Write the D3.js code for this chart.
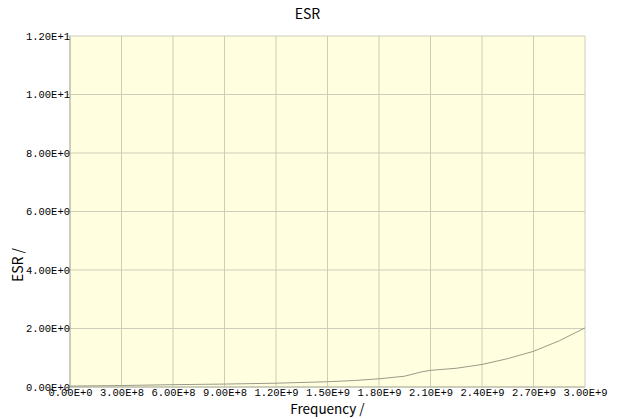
<!DOCTYPE html>
<html>
<head>
<meta charset="utf-8">
<script src="https://cdn.jsdelivr.net/npm/d3@7"></script>
<style>
  body { margin: 0; background: #fff; }
  svg text { fill: #000; }
</style>
</head>
<body>
<div id="chart"></div>
<script>
// frequency (Hz) and ESR values
const freq = [0, 3e8, 6e8, 9e8, 1.2e9, 1.5e9, 1.65e9, 1.8e9, 1.95e9, 2.05e9, 2.1e9, 2.25e9, 2.4e9, 2.55e9, 2.7e9, 2.85e9, 3.0e9];
const esr  = [0.03, 0.05, 0.08, 0.10, 0.13, 0.18, 0.22, 0.28, 0.37, 0.52, 0.57, 0.64, 0.77, 0.97, 1.22, 1.58, 2.02];
const xTicks = [0, 3e8, 6e8, 9e8, 1.2e9, 1.5e9, 1.8e9, 2.1e9, 2.4e9, 2.7e9, 3.0e9];
const yTicks = [0, 2, 4, 6, 8, 10, 12];

const margin = {top: 36, right: 32, bottom: 32, left: 70},
  W = 617, H = 419,
  width = W - margin.left - margin.right,
  height = H - margin.top - margin.bottom;

// format like 1.20E+9
const sci = (v) => {
  if (v === 0) return '0.00E+0';
  const e = Math.floor(Math.log10(Math.abs(v)));
  const m = v / Math.pow(10, e);
  return m.toFixed(2) + 'E' + (e >= 0 ? '+' : '') + e;
};

const x = d3.scaleLinear().domain([0, 3e9]).range([0, width]);
const y = d3.scaleLinear().domain([0, 12]).range([height, 0]);

const svg = d3.select('#chart').append('svg')
  .attr('width', W)
  .attr('height', H);

const chart = svg.append('g')
  .attr('transform', 'translate(' + margin.left + ',' + margin.top + ')');

chart.append('rect')
  .attr('width', width)
  .attr('height', height)
  .attr('fill', '#ffffe0');

// grid
chart.append('g')
  .selectAll('line')
  .data(xTicks)
  .enter().append('line')
  .attr('x1', (d) => x(d)).attr('x2', (d) => x(d))
  .attr('y1', 0).attr('y2', height)
  .attr('stroke', '#cdcdb9');

chart.append('g')
  .selectAll('line')
  .data(yTicks)
  .enter().append('line')
  .attr('x1', -3).attr('x2', width)
  .attr('y1', (d) => y(d)).attr('y2', (d) => y(d))
  .attr('stroke', '#cdcdb9');

// axes lines
chart.append('line').attr('x1', 0).attr('x2', 0).attr('y1', 0).attr('y2', height).attr('stroke', '#b4b4a0');
chart.append('line').attr('x1', 0).attr('x2', width).attr('y1', height).attr('y2', height).attr('stroke', '#b4b4a0');

// tick labels
const xAxis = d3.axisBottom(x).tickValues(xTicks).tickFormat(sci).tickSize(0).tickPadding(2);
const yAxis = d3.axisLeft(y).tickValues(yTicks).tickFormat(sci).tickSize(0).tickPadding(0);

const xg = chart.append('g')
  .attr('transform', 'translate(0,' + height + ')')
  .call(xAxis);
const yg = chart.append('g').call(yAxis);

[xg, yg].forEach((g) => {
  g.select('.domain').remove();
  g.selectAll('text')
    .style('font-family', '"Liberation Mono", monospace')
    .style('font-size', '10.5px')
    .attr('fill', '#000');
});

// curve
const pts = freq.map((f, i) => [f, esr[i]]);
chart.append('path')
  .datum(pts)
  .attr('fill', 'none')
  .attr('stroke', '#9a9a8a')
  .attr('stroke-width', 1)
  .attr('d', d3.line().x((d) => x(d[0])).y((d) => y(d[1])));

// titles
const titleFont = '"Noto Sans CJK JP", sans-serif';
svg.append('text')
  .attr('x', margin.left + width / 2 - 20)
  .attr('y', 19)
  .attr('text-anchor', 'middle')
  .style('font-family', titleFont)
  .style('font-size', '14px')
  .text('ESR');

svg.append('text')
  .attr('x', margin.left + width / 2)
  .attr('y', 414)
  .attr('text-anchor', 'middle')
  .style('font-family', titleFont)
  .style('font-size', '13.5px')
  .text('Frequency /');

svg.append('text')
  .attr('transform', 'translate(23,265) rotate(-90)')
  .attr('text-anchor', 'middle')
  .style('font-family', titleFont)
  .style('font-size', '14px')
  .text('ESR /');
</script>
</body>
</html>
